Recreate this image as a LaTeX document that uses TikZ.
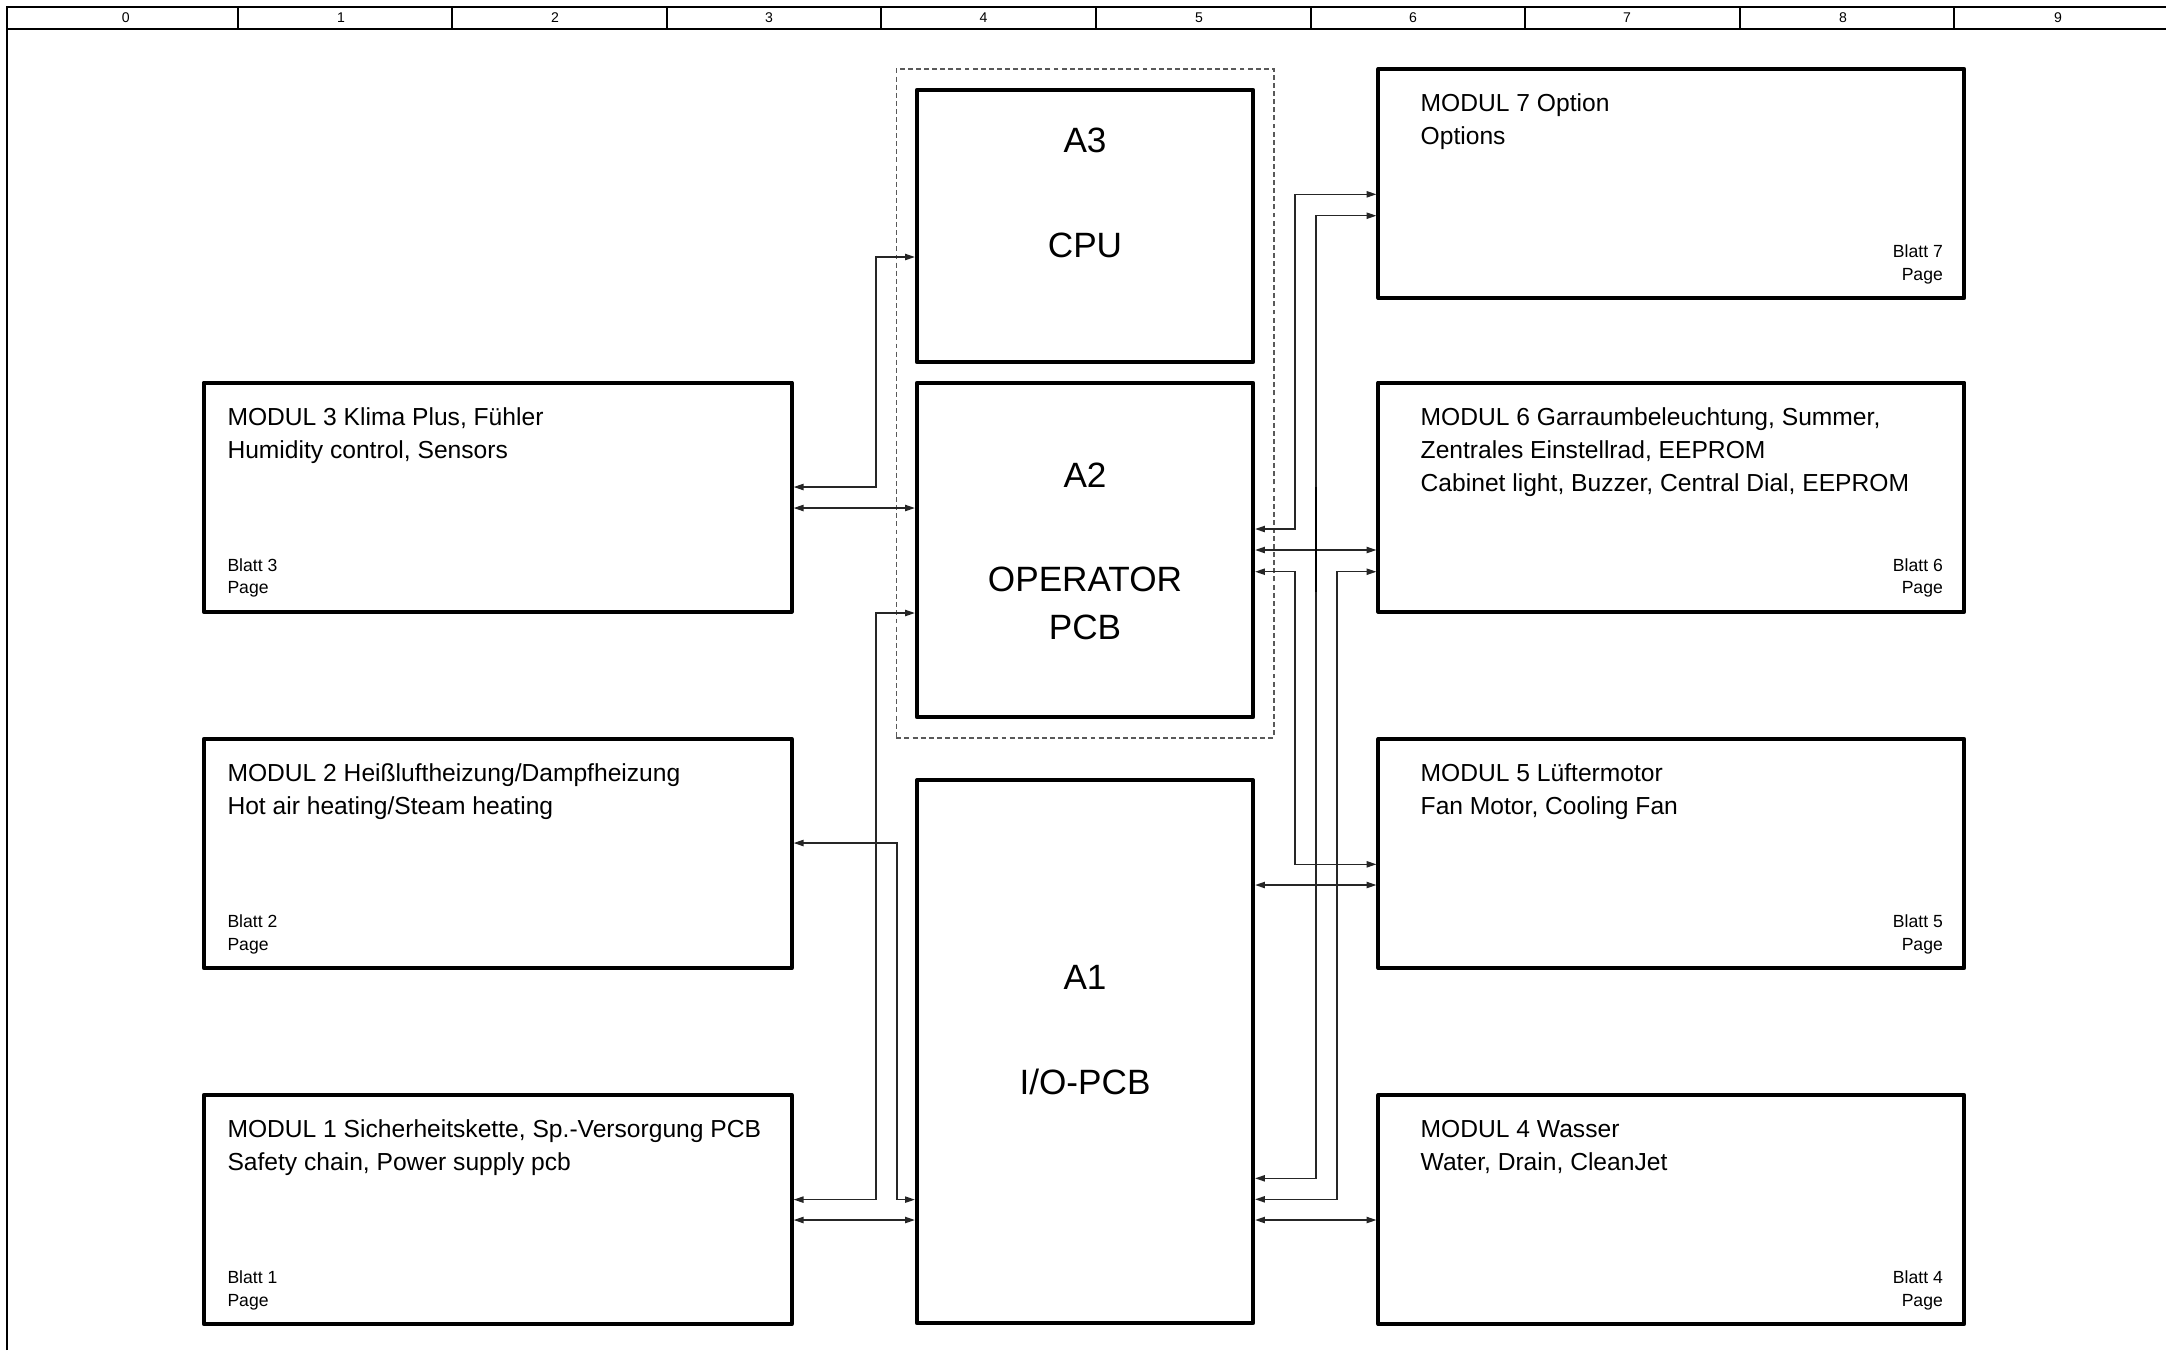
\documentclass[tikz,border=0pt]{standalone}
\usepackage{fontspec}
\setmainfont{Liberation Sans}
\usetikzlibrary{arrows.meta}
\begin{document}
\begin{tikzpicture}[x=0.01cm,y=-0.01cm,
  box/.style={draw=black, line width=1.15pt, line join=round, rectangle, inner sep=0pt},
  modl/.style={box, minimum width=5.875cm, minimum height=2.29cm},
  modr/.style={box, minimum width=5.854cm, minimum height=2.29cm},
  conn/.style={draw=black!85, line width=0.38pt, {Triangle[length=2.8pt,width=1.8pt]}-{Triangle[length=2.8pt,width=1.8pt]}},
  ttl/.style={anchor=base west, inner sep=0pt, font=\fontsize{7pt}{8pt}\selectfont},
  pg/.style={anchor=base west, inner sep=0pt, font=\fontsize{5pt}{6pt}\selectfont},
  pgr/.style={anchor=base east, inner sep=0pt, font=\fontsize{5pt}{6pt}\selectfont},
  big/.style={anchor=base, inner sep=0pt, font=\fontsize{10pt}{12pt}\selectfont},
  rl/.style={inner sep=0pt, font=\fontsize{4pt}{5pt}\selectfont},
  frm/.style={draw=black, line width=0.55pt}
]
\useasboundingbox (0,0) rectangle (2166,1350);
% frame and ruler
\draw[frm, line width=0.4pt] (7,1350) -- (7,7) -- (2166,7);
\draw[frm, line width=0.7pt] (7,29) -- (2166,29);
\foreach \xx in {237.6,452.2,666.8,881.4,1096,1310.6,1525.2,1739.8,1954.4}
  \draw[frm] (\xx,7) -- (\xx,29);
\foreach \i/\xx in {0/125.7,1/341,2/555,3/769,4/983.6,5/1199,6/1413,7/1627,8/1843,9/2058}
  \node[rl] (r\i) at (\xx,18) {\i};

% group frame
\node[draw=black!65, dashed, dash pattern=on 1.4pt off 0.9pt, line width=0.4pt, inner sep=0pt,
      minimum width=3.772cm, minimum height=6.686cm] (grp) at (1085.1,403.3) {};

% central boards
\node[box, minimum width=3.36cm, minimum height=2.72cm] (a3) at (1085,226) {};
\node[box, minimum width=3.36cm, minimum height=3.34cm] (a2) at (1085,550) {};
\node[box, minimum width=3.36cm, minimum height=5.425cm] (a1) at (1085,1051.75) {};
\node[big] (a3t1) at (1085,152) {A3};
\node[big] (a3t2) at (1085,257) {CPU};
\node[big] (a2t1) at (1085,487.8) {A2};
\node[big] (a2t2) at (1085,591.4) {OPERATOR};
\node[big] (a2t3) at (1085,639.8) {PCB};
\node[big] (a1t1) at (1085,989.3) {A1};
\node[big] (a1t2) at (1085,1094.2) {I/O-PCB};

% left modules
\node[modl] (m3) at (497.75,497.1) {};
\node[modl] (m2) at (497.75,853.5) {};
\node[modl] (m1) at (497.75,1209.5) {};
% right modules
\node[modr] (m7) at (1671.3,183.5) {};
\node[modr] (m6) at (1671.3,497.1) {};
\node[modr] (m5) at (1671.3,853.5) {};
\node[modr] (m4) at (1671.3,1209.5) {};

% left module texts
\node[ttl] (m3t1) at (226.8,425) {MODUL 3 Klima Plus, Fühler};
\node[ttl] (m3t2) at (226.8,458.3) {Humidity control, Sensors};
\node[pg] (m3p1) at (226.8,571.3) {Blatt 3};
\node[pg] (m3p2) at (226.8,593.9) {Page};

\node[ttl] (m2t1) at (226.8,781.4) {MODUL 2 Heißluftheizung/Dampfheizung};
\node[ttl] (m2t2) at (226.8,814.7) {Hot air heating/Steam heating};
\node[pg] (m2p1) at (226.8,927.7) {Blatt 2};
\node[pg] (m2p2) at (226.8,950.3) {Page};

\node[ttl] (m1t1) at (226.8,1137.4) {MODUL 1 Sicherheitskette, Sp.-Versorgung PCB};
\node[ttl] (m1t2) at (226.8,1170.7) {Safety chain, Power supply pcb};
\node[pg] (m1p1) at (226.8,1283.7) {Blatt 1};
\node[pg] (m1p2) at (226.8,1306.3) {Page};

% right module texts
\node[ttl] (m7t1) at (1420,111.4) {MODUL 7 Option};
\node[ttl] (m7t2) at (1420,144.7) {Options};
\node[pgr] (m7p1) at (1943.5,257.7) {Blatt 7};
\node[pgr] (m7p2) at (1943.5,280.3) {Page};

\node[ttl] (m6t1) at (1420,425) {MODUL 6 Garraumbeleuchtung, Summer,};
\node[ttl] (m6t2) at (1420,458.3) {Zentrales Einstellrad, EEPROM};
\node[ttl] (m6t3) at (1420,491) {Cabinet light, Buzzer, Central Dial, EEPROM};
\node[pgr] (m6p1) at (1943.5,571.3) {Blatt 6};
\node[pgr] (m6p2) at (1943.5,593.9) {Page};

\node[ttl] (m5t1) at (1420,781.4) {MODUL 5 Lüftermotor};
\node[ttl] (m5t2) at (1420,814.7) {Fan Motor, Cooling Fan};
\node[pgr] (m5p1) at (1943.5,927.7) {Blatt 5};
\node[pgr] (m5p2) at (1943.5,950.3) {Page};

\node[ttl] (m4t1) at (1420,1137.4) {MODUL 4 Wasser};
\node[ttl] (m4t2) at (1420,1170.7) {Water, Drain, CleanJet};
\node[pgr] (m4p1) at (1943.5,1283.7) {Blatt 4};
\node[pgr] (m4p2) at (1943.5,1306.3) {Page};

% left connectors
\draw[conn] (a3.west |- 0,257) -- (876,257) -- (876,487) -- (m3.east |- 0,487);
\draw[conn] (m3.east |- 0,508) -- (a2.west |- 0,508);
\draw[conn] (a2.west |- 0,613) -- (876,613) -- (876,1199.6) -- (m1.east |- 0,1199.6);
\draw[conn] (m2.east |- 0,843) -- (897,843) -- (897,1199.6) -- (a1.west |- 0,1199.6);
\draw[conn] (m1.east |- 0,1220) -- (a1.west |- 0,1220);

% right connectors
\draw[conn] (a2.east |- 0,529) -- (1295,529) -- (1295,194.3) -- (m7.west |- 0,194.3);
\draw[conn] (a2.east |- 0,550) -- (m6.west |- 0,550);
\draw[conn] (a2.east |- 0,571.7) -- (1295,571.7) -- (1295,864.3) -- (m5.west |- 0,864.3);
\draw[conn] (m7.west |- 0,215.7) -- (1316,215.7) -- (1316,1178.3) -- (a1.east |- 0,1178.3);
\draw[conn] (m6.west |- 0,571.7) -- (1337,571.7) -- (1337,1199.3) -- (a1.east |- 0,1199.3);
\draw[conn] (a1.east |- 0,885) -- (m5.west |- 0,885);
\draw[conn] (a1.east |- 0,1220) -- (m4.west |- 0,1220);
\draw[black, line width=0.6pt] (1316,486.7) -- (1316,591.7);
\end{tikzpicture}
\end{document}
